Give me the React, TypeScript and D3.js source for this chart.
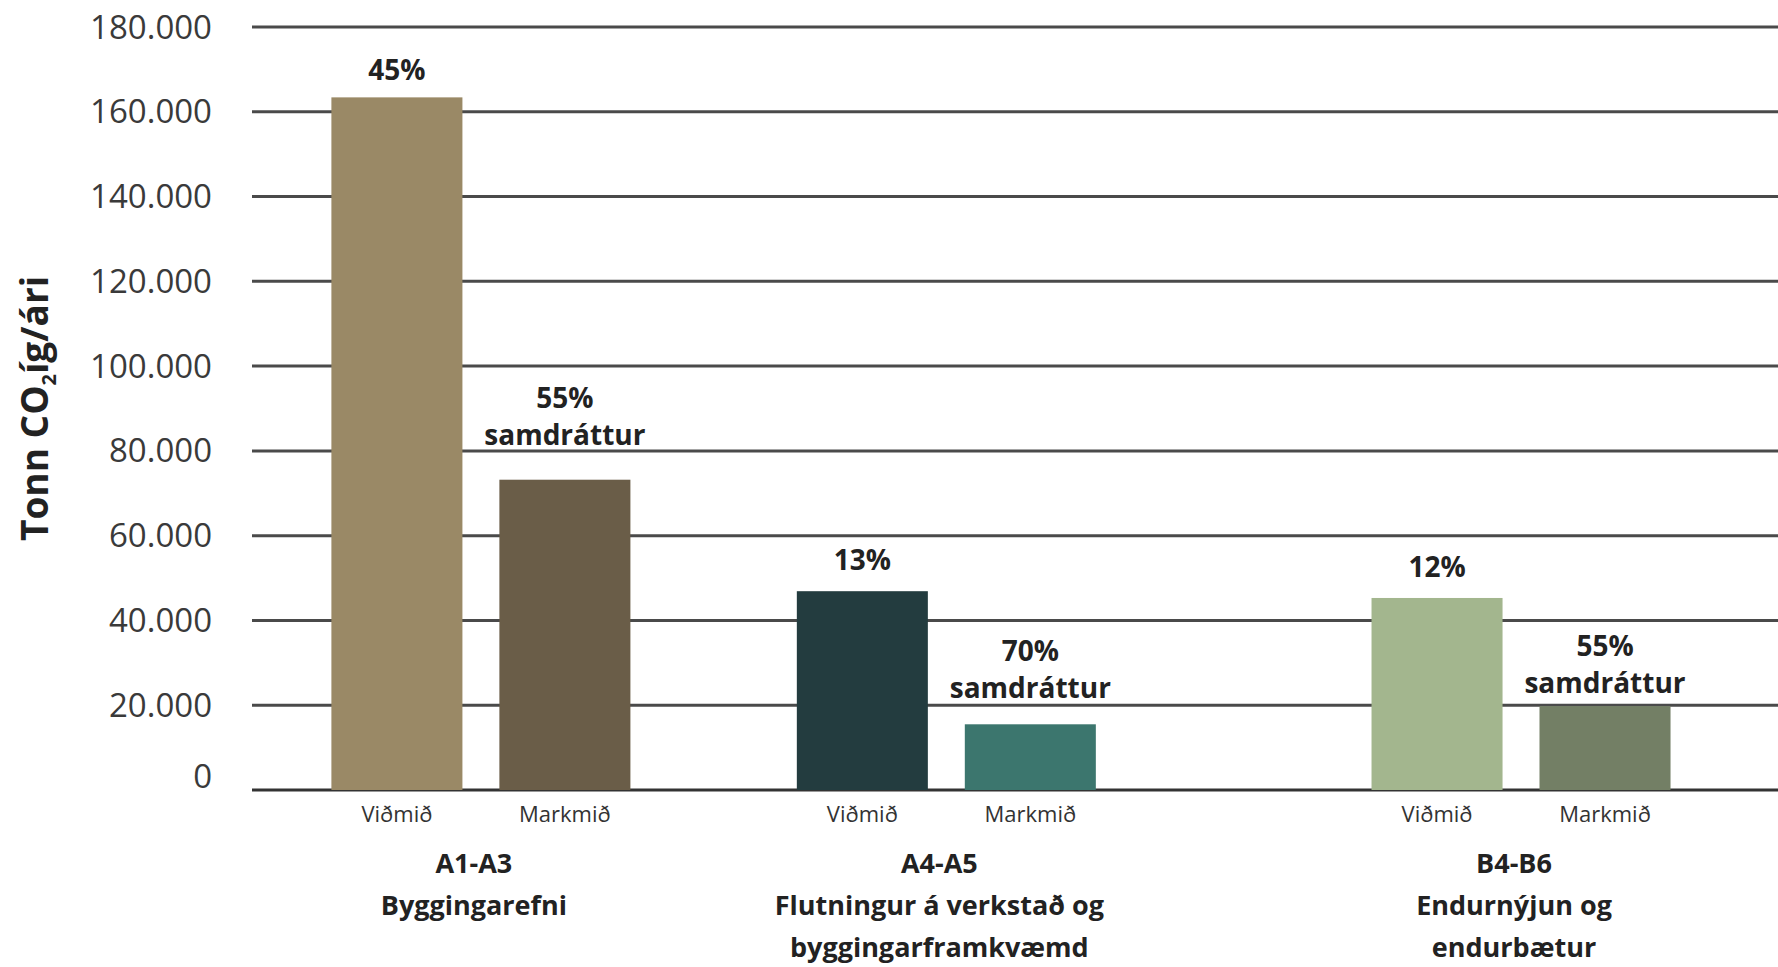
import * as d3 from "d3";

const groups = ["A1-A3", "A4-A5", "B4-B6"];
const groupLines = [
  ["A1-A3", "Byggingarefni"],
  ["A4-A5", "Flutningur á verkstað og", "byggingarframkvæmd"],
  ["B4-B6", "Endurnýjun og", "endurbætur"],
];
const series = ["Viðmið", "Markmið"];

// tonn CO2 per year
const vidmid = [163400, 46900, 45300];
const markmid = [73200, 15500, 19800];

const vidmidLabels = [["45%"], ["13%"], ["12%"]];
const markmidLabels = [
  ["55%", "samdráttur"],
  ["70%", "samdráttur"],
  ["55%", "samdráttur"],
];

const vidmidColors = ["#9a8966", "#233c3f", "#a3b68e"];
const markmidColors = ["#6a5d48", "#3c766e", "#737f65"];

const yTicks = [0, 20000, 40000, 60000, 80000, 100000, 120000, 140000, 160000, 180000];

const WIDTH = 1778;
const HEIGHT = 967;
const M = { top: 27, right: 0, bottom: 177, left: 252 };
// group centres as a share of the plot width (the original spaces them unevenly)
const GROUP_POS = [0.15, 0.455, 0.8316];
// gap between the top of a bar and its label, per bar [viðmið, markmið]
const LABEL_GAP = [
  [17, 35],
  [21, 26],
  [21, 13],
];

const FONT = "'Open Sans', 'DejaVu Sans', sans-serif";
const is = d3.formatLocale({ decimal: ",", thousands: ".", grouping: [3], currency: ["", " kr."] });
const fmt = is.format(",");

export default function App() {
  const innerW = WIDTH - M.left - M.right;
  const y = d3
    .scaleLinear()
    .domain([0, 180000])
    .range([HEIGHT - M.bottom, M.top]);
  const x0 = d3
    .scaleOrdinal<string, number>()
    .domain(groups)
    .range(GROUP_POS.map((f) => M.left + f * innerW));
  const x1 = d3.scaleBand().domain(series).range([-149.5, 149.5]).paddingInner(0.22);

  const bars = groups.flatMap((g, i) =>
    [vidmid, markmid].map((vals, s) => ({
      group: g,
      gi: i,
      series: series[s],
      value: vals[i],
      color: (s === 0 ? vidmidColors : markmidColors)[i],
      label: (s === 0 ? vidmidLabels : markmidLabels)[i],
      gap: LABEL_GAP[i][s],
    }))
  );

  return (
    <svg
      width={WIDTH}
      height={HEIGHT}
      style={{ position: "absolute", left: 0, top: 0, background: "#fff" }}
      fontFamily={FONT}
    >
      {/* gridlines */}
      {yTicks.map((t) => (
        <g key={t}>
          <line
            x1={M.left}
            x2={WIDTH - M.right}
            y1={y(t)}
            y2={y(t)}
            stroke={t === 0 ? "#333" : "#4a4a4a"}
            strokeWidth={3}
          />
          <text
            x={212}
            y={y(t)}
            dy={t === 0 ? "-0.05em" : "0.35em"}
            textAnchor="end"
            fontSize={33}
            fill="#3a3a3a"
          >
            {fmt(t)}
          </text>
        </g>
      ))}

      {/* y title */}
      <text
        transform={`translate(48,${(y(0) + y(180000)) / 2 + 0})rotate(-90)`}
        textAnchor="middle"
        fontSize={37}
        fontWeight={700}
        fill="#222"
      >
        Tonn CO
        <tspan fontSize={20} dy={8}>
          2
        </tspan>
        <tspan dy={-8}>íg/ári</tspan>
      </text>

      {/* bars */}
      {bars.map((b) => {
        const bx = x0(b.group) + (x1(b.series) ?? 0);
        const cx = bx + x1.bandwidth() / 2;
        const top = y(b.value);
        const n = b.label.length;
        return (
          <g key={b.group + b.series}>
            <rect x={bx} y={top} width={x1.bandwidth()} height={y(0) - top} fill={b.color} />
            {b.label.map((l, k) => (
              <text
                key={k}
                x={cx}
                y={top - b.gap - (n - 1 - k) * 37}
                textAnchor="middle"
                fontSize={28}
                fontWeight={700}
                fill="#222"
              >
                {l}
              </text>
            ))}
            <text x={cx} y={822} textAnchor="middle" fontSize={22} fill="#333">
              {b.series}
            </text>
          </g>
        );
      })}

      {/* group labels */}
      {groups.map((g, i) => (
        <text
          key={g}
          x={x0(g) - 7}
          y={873}
          textAnchor="middle"
          fontSize={27}
          fontWeight={700}
          fill="#222"
        >
          {groupLines[i].map((l, k) => (
            <tspan key={k} x={x0(g) - 7} dy={k === 0 ? 0 : 42}>
              {l}
            </tspan>
          ))}
        </text>
      ))}
    </svg>
  );
}
